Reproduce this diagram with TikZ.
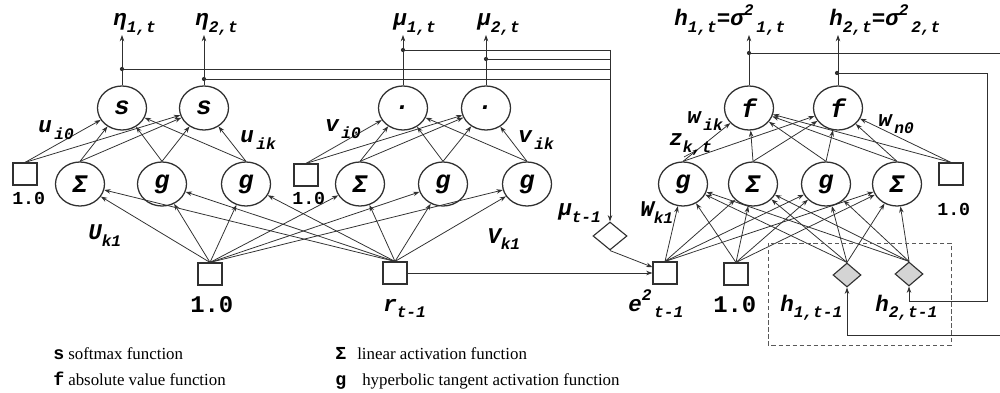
\documentclass[tikz,border=0pt]{standalone}
\usepackage{fontspec}
\usetikzlibrary{shapes.geometric,arrows.meta}
\newfontfamily\cmono{Liberation Mono}
\newfontfamily\cserif{Liberation Serif}
\definecolor{lc}{HTML}{303030}
\definecolor{dfill}{HTML}{D4D4D4}
\newcommand{\nf}{\cmono\bfseries\itshape\fontsize{18}{18}\selectfont}
\newcommand{\lf}{\cmono\bfseries\itshape\fontsize{16}{16}\selectfont}
\newcommand{\of}{\cmono\bfseries\fontsize{17}{17}\selectfont}
\newcommand{\sof}{\cmono\bfseries\fontsize{13}{13}\selectfont}
\newcommand{\lsb}[1]{\raisebox{-0.27em}{\fontsize{11.5}{11.5}\selectfont#1}}
\newcommand{\lsp}[1]{\raisebox{0.45em}{\fontsize{11.5}{11.5}\selectfont#1}}
\tikzset{
  neu/.style={ellipse, draw=lc, line width=0.9pt, fill=white, minimum width=1.225cm, minimum height=1.1cm, inner sep=0pt, font=\nf},
  inbox/.style={rectangle, draw=lc, line width=0.8pt, fill=white, minimum width=0.6cm, minimum height=0.55cm, inner sep=0pt},
  mudiam/.style={diamond, draw=lc, line width=0.8pt, fill=white, minimum width=0.85cm, minimum height=0.7cm, inner sep=0pt},
  hdiam/.style={diamond, draw=lc, line width=0.8pt, fill=dfill, minimum width=0.7cm, minimum height=0.6cm, inner sep=0pt},
  con/.style={draw=lc, line width=0.55pt, -{Stealth[length=4.5pt,width=3.2pt]}},
  wire/.style={draw=lc, line width=0.7pt},
  jdot/.style={circle, fill=lc, inner sep=0pt, minimum size=3pt},
  lab/.style={anchor=base west, inner sep=0pt, font=\lf},
  olab/.style={anchor=base west, inner sep=0pt, font=\of},
  solab/.style={anchor=base west, inner sep=0pt, font=\sof},
}
\begin{document}
\begin{tikzpicture}[x=0.025cm,y=-0.025cm]
\clip (0,0) rectangle (1000,393);
\fill[white] (0,0) rectangle (1000,393);

% ---------- left block (eta) ----------
\node[neu] (s1) at (122,108) {s};
\node[neu] (s2) at (204,108) {s};
\node[inbox] (b1) at (25,174) {};
\node[neu] (hL1) at (80,184) {Σ};
\node[neu] (hL2) at (162,184) {g};
\node[neu] (hL3) at (246,184) {g};

% ---------- middle block (mu) ----------
\node[neu] (m1) at (403,108) {.};
\node[neu] (m2) at (486,108) {.};
\node[inbox] (b2) at (306,175) {};
\node[neu] (hM1) at (360,184) {Σ};
\node[neu] (hM2) at (443,184) {g};
\node[neu] (hM3) at (527,184) {g};

% ---------- inputs ----------
\node[inbox] (one) at (210,274) {};
\node[inbox] (r) at (395,273) {};
\node[mudiam] (mud) at (610,236) {};
\node[inbox] (e2) at (665,273) {};
\node[inbox] (one2) at (736,274) {};
\node[hdiam] (hd1) at (847,275) {};
\node[hdiam] (hd2) at (909,274) {};

% ---------- right block (h) ----------
\node[neu] (f1) at (749,108) {f};
\node[neu] (f2) at (838,108) {f};
\node[neu] (hR1) at (683,184) {g};
\node[neu] (hR2) at (753,184) {Σ};
\node[neu] (hR3) at (826,184) {g};
\node[neu] (hR4) at (897,184) {Σ};
\node[inbox] (b3) at (951,174) {};

% ---------- connections ----------
\foreach \a in {b1,hL1,hL2,hL3} \foreach \b in {s1,s2} \draw[con] (\a.north) -- (\b);
\foreach \a in {b2,hM1,hM2,hM3} \foreach \b in {m1,m2} \draw[con] (\a.north) -- (\b);
\foreach \a in {one,r} \foreach \b in {hL1,hL2,hL3,hM1,hM2,hM3} \draw[con] (\a.north) -- (\b);
\foreach \a in {e2,one2,hd1,hd2} \foreach \b in {hR1,hR2,hR3,hR4} \draw[con] (\a.north) -- (\b);
\foreach \a in {hR1,hR2,hR3,hR4,b3} \foreach \b in {f1,f2} \draw[con] (\a.north) -- (\b);

% outputs
\coordinate (os1) at (122,35);
\coordinate (os2) at (204,35);
\coordinate (om1) at (403,35);
\coordinate (om2) at (486,35);
\coordinate (of1) at (749,35);
\coordinate (of2) at (838,35);
\draw[con] (s1.north) -- (os1);
\draw[con] (s2.north) -- (os2);
\draw[con] (m1.north) -- (om1);
\draw[con] (m2.north) -- (om2);
\draw[con] (f1.north) -- (of1);
\draw[con] (f2.north) -- (of2);

% junctions and feedback wires
\node[jdot] (je1) at (122,69) {};
\node[jdot] (je2) at (204,79) {};
\node[jdot] (jm1) at (403,50) {};
\node[jdot] (jm2) at (486,59) {};
\node[jdot] (jf1) at (749,53) {};
\node[jdot] (jf2) at (837,73) {};
\coordinate (c1) at (610,50);
\coordinate (c2) at (610,59);
\coordinate (c3) at (610,69);
\coordinate (c4) at (610,79);
\draw[wire] (jm1.center) -- (c1);
\draw[wire] (jm2.center) -- (c2);
\draw[wire] (je1.center) -- (c3);
\draw[wire] (je2.center) -- (c4);
\draw[con] (c1) -- (mud.north);
\draw[con] (mud.south) -- (e2.155);
\draw[con] (r.east) -- (e2.west);

\coordinate (k1) at (1010,53);
\coordinate (k2) at (1010,335);
\coordinate (k3) at (847,335);
\draw[wire] (jf1.center) -- (k1) -- (k2) -- (k3);
\draw[con] (k3) -- (hd1.south);
\coordinate (q1) at (987,73);
\coordinate (q2) at (987,301);
\coordinate (q3) at (909,301);
\draw[wire] (jf2.center) -- (q1) -- (q2) -- (q3);
\draw[con] (q3) -- (hd2.south);

% dashed box
\draw[draw=lc!80, line width=0.7pt, dash pattern=on 3pt off 2pt] (768,243) rectangle (951,345);

% z arrow
\coordinate (zs) at (684,157);
\coordinate (ze) at (697,150);
\draw[draw=lc, line width=0.5pt, -{Stealth[length=3pt,width=2.5pt]}] (zs) -- (ze);

% ---------- labels ----------
\node[lab] (t1) at (113,26) {η\lsb{1,t}};
\node[lab] (t2) at (195,26) {η\lsb{2,t}};
\node[lab] (t3) at (393,26) {μ\lsb{1,t}};
\node[lab] (t4) at (477,26) {μ\lsb{2,t}};
\node[lab] (t5) at (674,26) {h\lsb{1,t}=σ\lsp{2}\lsb{\,1,t}};
\node[lab] (t6) at (829,26) {h\lsb{2,t}=σ\lsp{2}\lsb{\,2,t}};

\node[lab] (w1) at (38,133) {u\lsb{\,i0}};
\node[lab] (w2) at (240,143) {u\lsb{\,ik}};
\node[lab] (w3) at (325,132) {v\lsb{\,i0}};
\node[lab] (w4) at (518,143) {v\lsb{\,ik}};
\node[lab] (w5) at (88,240) {U\lsb{k1}};
\node[lab] (w6) at (487,243) {V\lsb{k1}};
\node[lab] (w7) at (558,216) {μ\lsb{t-1}};
\node[lab] (w8) at (640,217) {W\lsb{k1}};
\node[lab] (w9) at (687,124) {w\lsb{\,ik}};
\node[lab] (w10) at (878,127) {w\lsb{\,n0}};
\node[lab] (w11) at (669,146) {z\lsb{k,t}};

\node[solab] (n1) at (12,205) {1.0};
\node[solab] (n2) at (292,205) {1.0};
\node[solab] (n3) at (937,216) {1.0};

\node[olab] (i1) at (190,312) {1.0};
\node[lab] (i2) at (383,311) {r\lsb{t-1}};
\node[lab] (i3) at (628,311) {e\lsp{2}\lsb{\,t-1}};
\node[olab] (i4) at (713,312) {1.0};
\node[lab] (i5) at (780,311) {h\lsb{1,t-1}};
\node[lab] (i6) at (875,311) {h\lsb{2,t-1}};

% ---------- legend ----------
\node[anchor=base west, inner sep=0pt, font=\sof] (g1) at (53,359) {s};
\node[anchor=base west, inner sep=0pt, font=\cserif\fontsize{12}{12}\selectfont] (g1t) at (68,359) {softmax function};
\node[anchor=base west, inner sep=0pt, font=\sof] (g2) at (53,385) {f};
\node[anchor=base west, inner sep=0pt, font=\cserif\fontsize{12}{12}\selectfont] (g2t) at (68,385) {absolute value function};
\node[anchor=base west, inner sep=0pt, font=\sof] (g3) at (335,359) {Σ};
\node[anchor=base west, inner sep=0pt, font=\cserif\fontsize{12}{12}\selectfont] (g3t) at (357,359) {linear activation function};
\node[anchor=base west, inner sep=0pt, font=\sof] (g4) at (335,385) {g};
\node[anchor=base west, inner sep=0pt, font=\cserif\fontsize{12}{12}\selectfont] (g4t) at (362,385) {hyperbolic tangent activation function};
\end{tikzpicture}
\end{document}
